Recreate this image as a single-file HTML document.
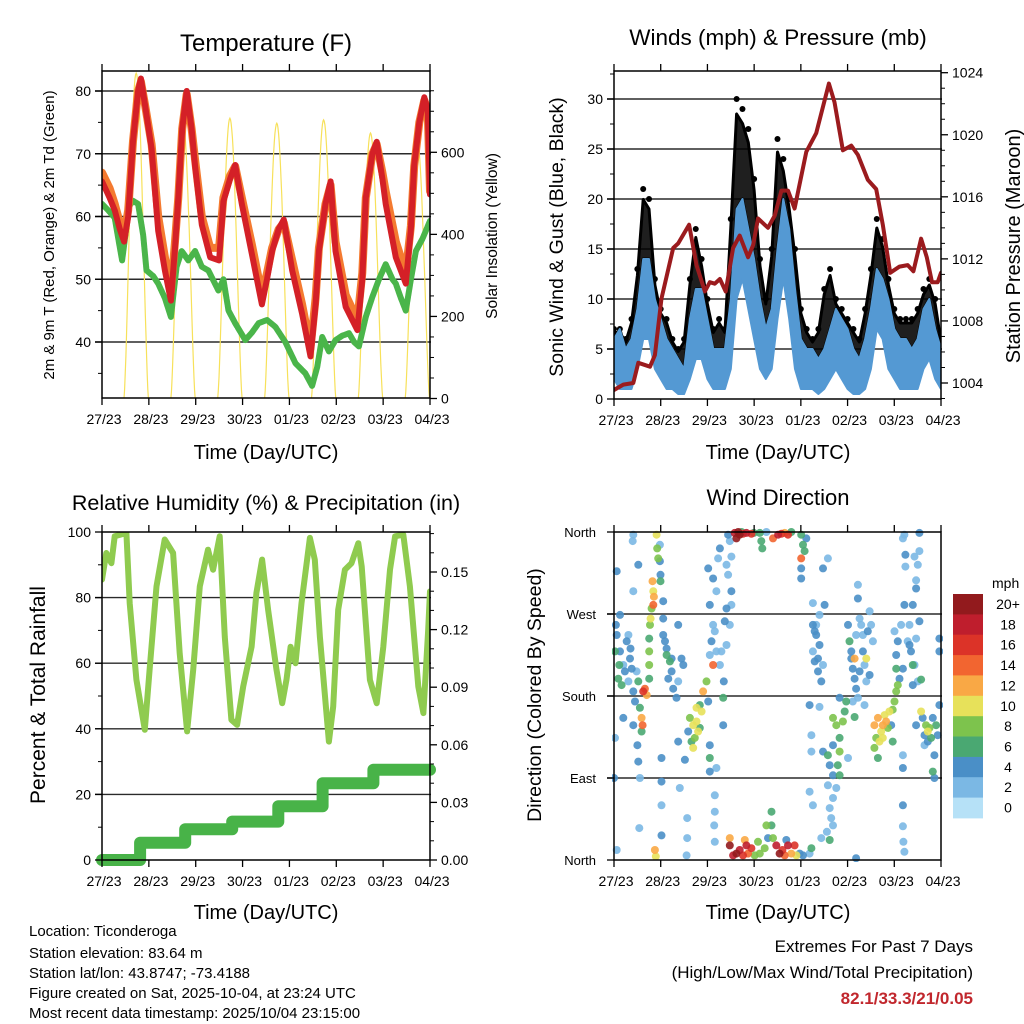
<!DOCTYPE html>
<html><head><meta charset="utf-8"><title>Station Meteogram - Ticonderoga</title>
<style>
html,body{margin:0;padding:0;background:#fff;}
svg{display:block;font-family:"Liberation Sans",Arial,sans-serif;}
</style></head>
<body>
<svg id="chart" xmlns="http://www.w3.org/2000/svg" width="1024" height="1024" viewBox="0 0 1024 1024">
<rect x="0" y="0" width="1024" height="1024" fill="#fff"/>
<defs>
<clipPath id="c1"><rect x="102" y="71" width="328" height="327"/></clipPath>
<clipPath id="c2"><rect x="614" y="71" width="327" height="328"/></clipPath>
<clipPath id="c3"><rect x="102" y="532" width="328" height="328"/></clipPath>
<clipPath id="c4"><rect x="612" y="528" width="331" height="334"/></clipPath>
</defs>
<text x="266" y="51" font-size="24" text-anchor="middle">Temperature (F)</text>
<text x="778" y="45" font-size="22.5" text-anchor="middle">Winds (mph) &amp; Pressure (mb)</text>
<text x="266" y="510" font-size="21.5" text-anchor="middle">Relative Humidity (%) &amp; Precipitation (in)</text>
<text x="778" y="505" font-size="22" text-anchor="middle">Wind Direction</text>
<text transform="translate(54,235) rotate(-90)" font-size="15" text-anchor="middle">2m &amp; 9m T (Red, Orange) &amp; 2m Td (Green)</text>
<text transform="translate(497,236) rotate(-90)" font-size="15.5" text-anchor="middle">Solar Insolation (Yellow)</text>
<text transform="translate(563,237) rotate(-90)" font-size="19.5" text-anchor="middle">Sonic Wind &amp; Gust (Blue, Black)</text>
<text transform="translate(1020,246) rotate(-90)" font-size="20" text-anchor="middle">Station Pressure (Maroon)</text>
<text transform="translate(45,695) rotate(-90)" font-size="21" text-anchor="middle">Percent &amp; Total Rainfall</text>
<text transform="translate(541,695) rotate(-90)" font-size="19.5" text-anchor="middle">Direction (Colored By Speed)</text>
<text x="266" y="459" font-size="20" text-anchor="middle">Time (Day/UTC)</text>
<text x="778" y="459" font-size="20" text-anchor="middle">Time (Day/UTC)</text>
<text x="266" y="919" font-size="20" text-anchor="middle">Time (Day/UTC)</text>
<text x="778" y="919" font-size="20" text-anchor="middle">Time (Day/UTC)</text>
<g font-size="15">
<text x="29" y="936">Location: Ticonderoga</text>
<text x="29" y="958">Station elevation: 83.64 m</text>
<text x="29" y="978">Station lat/lon: 43.8747; -73.4188</text>
<text x="29" y="998">Figure created on Sat, 2025-10-04, at 23:24 UTC</text>
<text x="29" y="1018">Most recent data timestamp: 2025/10/04 23:15:00</text>
</g>
<text x="973" y="952" font-size="17" text-anchor="end">Extremes For Past 7 Days</text>
<text x="973" y="978" font-size="17" text-anchor="end">(High/Low/Max Wind/Total Precipitation)</text>
<text x="973" y="1004" font-size="17" font-weight="bold" fill="#c1272d" text-anchor="end">82.1/33.3/21/0.05</text>
</svg>
<script>
// ===== DATA =====
const dayLabels = ["27/23","28/23","29/23","30/23","01/23","02/23","03/23","04/23"];
const tempHours = [0,3.9,6.5,9.1,11.3,13.4,15.9,18.5,19.9,21.9,25.4,28.8,32.2,35.3,37.4,39.1,41.1,43.4,45.9,47.7,51.1,55.4,60,62.2,65.6,68.2,71.6,76.8,81.9,84.5,87.1,90.5,93.1,97.4,102.5,106.8,109.4,111.1,114.5,117.1,119.6,124.8,130.8,133.3,135.1,138.5,140.7,143.6,145.3,150.5,155.6,158.2,159.9,162.5,165.1,166.8,168];
const temp2m = [65.6,63,61,58,56,60,72,80,82,78,70.8,57.7,51.4,46.6,55,63,74,80,74,68,58.7,53.5,53,62.4,66,68.2,62,54,46,50,54.5,58,59.5,51.4,44.5,37.7,46,54.5,62,65.6,54.5,45.6,41.9,50,63,70,71.9,66,62,53.5,49.3,58,68.2,75,79,77,63.5];
const temp9m = [67,64.5,62,59,57,61,72,80,81.5,78,71.5,60,53.5,48,56,63,74,79.5,74,69,60,55,55,63,66.5,68,63,55.5,47.5,51,55,58,59,53,46,39,47,55,62,65,56,47.5,43.5,51,63,70,71.5,67,64,56,51,58.5,68,75,78.5,77,64];
const dewHours = [0,3.1,6.5,8.6,10.3,12,13.4,15.9,18.5,21.1,22.8,26.2,28.8,32.2,35.3,38.2,40.8,44.2,47.7,51.1,54.5,59.6,62.2,64.8,68.2,73.4,76.8,80.2,84.5,88.8,93.9,99.1,104.2,107.6,110.2,112.8,116.2,119.6,123.1,126.5,129.1,131.6,135.1,138.5,141.9,145.3,148.8,150.5,153.1,155.6,158.2,160.8,164.2,168];
const dewPoint = [62,61,59.8,56,53,57,61.4,62.5,62,57,51.4,50.5,49.3,47,44,52,54.5,53,54.5,52,51.4,48.2,50,45,43,40.3,41.5,43,43.5,42.4,40,36.6,35,33,36,40.8,38.5,40.3,41,41.4,40,39.3,44,47.2,50,52.4,50,49.3,47,45,50,54.5,56.5,59.3];
const solarPeak = [793,671,683,671,679,647,625];
const solarRiseFrac = [0.47,0.47,0.47,0.47,0.47,0.47,0.47];
const solarSetFrac = [0.99,0.99,0.99,0.99,0.99,0.99,0.99];
const windHours = [0,3,6,9,12,15,18,21,24,27,30,33,36,39,42,45,48,51,54,57,60,63,66,69,72,75,78,81,84,87,90,93,96,99,102,105,108,111,114,117,120,123,126,129,132,135,138,141,144,147,150,153,156,159,162,165,168];
const windHigh = [6,7,5,6,9,14,14,10,8,6,5,4,3,8,11,11,8,5,5,5,10,19,20,17,14,10,7,9,15,20,17,11,6,5,5,4,5,7,9,8,7,5,4,6,9,13,12,10,7,6,6,5,6,9,10,7,5];
const windLow = [2,1,1,1,3,6,6,3,2,1,1,0.5,0.5,2,4,4,2,1,1,1,3,10,12,9,6,3,2,3,8,12,8,3,1,1,1,0.5,1,2,3,2,1,0.5,0.5,1,3,7,6,3,2,1,1,1,1,3,4,2,1];
const gustMax = [7,7,6,8,13,21,20,12,9,8,6,5,6,12,17,14,10,7,8,7,18,30,29,27,22,14,10,15,26,24,20,15,9,7,6,7,11,13,10,9,8,7,6,9,13,18,16,12,9,8,8,8,9,11,12,10,6];
const presHours = [0,4.8,9.9,12.5,18.5,21,24.4,30.4,33,38.6,42.4,46.7,49.2,51.8,54.4,57.4,61.2,64.6,68.9,71.5,74,79.1,82.6,86,89.4,92.8,98.8,103.9,110.4,113.3,117.6,121.9,125.3,130.4,134.7,138.1,141.9,146.7,150.9,153.8,157.8,160.7,163.4,166.3,168];
const pressure = [1003.55,1003.9,1004,1005.3,1005.05,1005.8,1009.45,1012.7,1013,1014.2,1011.6,1009.9,1010.5,1010.4,1010.7,1009.9,1012.7,1013.5,1012.1,1012.9,1014.6,1014,1014.8,1016.4,1016.4,1015.25,1018.9,1020.1,1023.3,1022.1,1019,1019.3,1018.7,1017.1,1016.5,1014.2,1011.1,1011.5,1011.6,1011.2,1013.3,1012.1,1010.5,1010.5,1011.1];
const rhHours = [0,2.2,4.8,6.5,12.5,14.2,17.6,21.9,24.4,27.9,32.1,36.4,39.8,43.6,46.7,50.1,54.3,56.9,60.3,62.9,66.3,69.2,72.3,76.6,79.1,82,85.1,89.4,92.3,94.5,96.6,99.1,102.2,106.5,109,111.6,116.2,118.4,121,124.4,127.8,131.3,133,137.2,140.7,144.1,147.5,150.1,154.3,157.7,162,164.6,167.1,168];
const rhValues = [85.5,93.6,90.5,98.7,99.7,78.3,55,39.7,58,83.4,97.7,93.6,63,39.2,58,83.4,94.6,88.5,98.7,68,42.7,41.2,52.9,65,81.4,91.6,76.3,58,47.8,55,65,60,78.3,98.2,91.6,68,36.1,46.8,76.3,88.5,90.5,96.6,89.5,54.9,47.8,65,88.5,98.7,99.2,83.4,52.9,44.8,70.2,81.9];
const rainHours = [0,19.5,42.6,66.7,90.3,113,139,168];
const rainTotal = [0,0.009,0.016,0.02,0.028,0.04,0.047,0.047];
const dirHours = [1.4,3.1,4.8,6.5,8.2,2.2,3.9,5.6,7.4,9.1,9.9,11.6,10.8,12.5,13.3,0.5,4.8,9.9,12,12.5,1.4,9.9,9.6,12.5,9.9,3.1,0,13.3,13,1.4,0.5,2.7,1,7.4,8.5,
21.9,22.2,22.7,19.8,20.2,20.5,20.2,19.3,18.8,18.5,18.1,18.1,18.1,18.1,15.9,15,16.8,14.2,14.7,14.2,23.6,23.9,23.9,23.6,25.3,25.3,25.3,27,28.7,29.6,27.9,30.4,32.1,33,33,35.6,34.7,24.4,24.4,24.4,24.4,21,21.5,26.2,27,29.6,
39,40.7,42.4,43.2,41.5,44.1,45,45.8,44.1,47.5,48.4,42.4,39.8,40.7,38.1,36.4,33.8,37.6,37.6,37.3,33,49.2,50.1,50.9,49.2,52.6,50.9,48.4,53.5,54.4,56.1,56.1,56.4,49.2,49.2,49.2,52.6,51.8,51.8,51.5,51.8,54.4,55.2,57.8,56.9,59.5,60.3,57.8,58.6,59.5,60.3,57.8,58.6,60.3,51.8,52.6,50.9,
62,63.8,64.6,66.3,68,70.6,71.8,74.9,75.7,76.2,78.3,81.7,84.3,86,87.7,89.4,91.1,96.2,97.1,97.9,98.8,96.2,96.2,96.2,62.9,65.5,
59.5,61.2,62.9,64.6,66.3,68,68.9,70.6,72.3,74,74.9,77.4,78.3,79.1,80.9,80.9,81.7,83.4,85.1,86.5,87.7,89.4,91.1,92.8,93.7,95.4,97.1,100.5,101.4,59.5,67.2,88.5,
102.2,103.9,105.6,103.1,104.8,106.5,102.2,107.4,103.9,105.6,102.2,108.2,100.5,105.6,101.4,101.4,107.4,109.9,110.8,112.5,114.2,112.5,110.8,111.6,112.5,109.4,110.8,112.5,114.2,115.9,115.9,117.6,118.5,119.3,115,115.9,112.5,109.9,100.5,102.2,106.5,109.9,107.4,103.1,104.8,
120.2,121,121.9,122.7,123.6,124.4,125.3,126.2,127.9,128.7,129.6,131.3,130.4,132.1,133,127,124.4,121.9,122.7,123.6,128.7,126.2,127.9,131.3,125.3,125.3,120.2,124.4,115.9,123.6,129.6,
133.8,135.6,137.3,138.1,139,139.8,140.7,136.4,134.7,138.1,133.8,135.6,141.5,143.2,142.4,143.2,144.1,145,145.8,145,146.7,148.4,144.1,145,145.8,147.5,148.4,149.2,149.7,149.7,156.1,156.9,154.4,155.2,153.5,149.2,150.9,152.6,154.4,155.2,151.8,156.9,157.8,156.1,153.5,148.4,148.4,148.4,148.4,148.7,149.2,156.9,155.2,151.8,153.5,
157.8,160.3,161.2,162.1,162.9,161.2,159.5,158.6,163.8,165.5,166.3,164.6,163.8,164.6,159.5,155.2,167.2,167.2,167.2,166.8,166.8];
const dirDeg = [247,229,214,240,221,199,192,207,196,210,185,207,174,196,167,134,156,148,126,108,317,357,350,324,295,269,90,90,35,11,229,214,258,247,232,
357,342,331,306,295,289,280,276,265,258,243,229,214,199,188,185,181,156,148,141,328,313,306,346,284,265,247,232,218,207,199,188,178,196,258,214,221,112,86,60,27,11,4,240,225,221,
156,148,152,141,134,145,163,185,170,196,174,167,130,123,141,110,79,46,24,5,130,225,240,258,280,295,309,320,331,342,148,178,196,126,112,97,101,71,53,38,20,214,229,236,262,258,280,276,357,350,333,324,313,295,251,229,214,
359,360,357,358,359,358,359,359,350,342,360,353,357,358,359,357,360,357,346,339,353,320,309,331,353,360,
16,5,7,11,5,16,7,13,5,20,7,13,38,24,53,38,24,16,7,11,5,16,7,16,5,7,5,7,13,24,22,22,
258,247,236,218,207,196,229,214,258,269,282,280,170,168,137,119,119,115,104,93,79,68,57,46,38,31,22,156,148,134,119,152,163,174,104,93,126,82,75,60,24,331,320,251,221,
258,240,221,210,199,188,178,207,229,214,196,203,251,258,240,258,247,229,174,157,170,265,247,273,302,287,112,2,178,221,221,
148,156,141,148,159,152,145,130,134,134,123,112,163,165,148,130,174,185,192,210,199,210,251,225,240,258,353,357,335,322,324,339,333,307,280,280,240,229,214,243,258,262,198,196,192,115,101,60,37,20,9,359,298,236,214,
163,148,141,145,134,130,137,156,156,148,137,115,97,90,126,148,170,243,229,218,198];
const dirSpeed = [4,4,2,4,4,6,6,4,2,4,4,2,4,6,6,2,4,4,4,4,4,2,2,4,2,4,4,2,2,2,6,6,4,2,4,
10,8,8,12,10,12,14,8,10,8,6,8,8,6,14,16,12,12,14,6,4,4,6,2,4,4,4,4,6,4,4,4,4,2,4,4,4,4,4,2,4,12,10,4,6,4,
8,10,10,10,8,6,10,12,6,8,4,10,6,10,4,4,2,2,2,2,4,2,4,2,4,2,4,4,2,4,4,6,4,4,6,4,2,2,2,2,2,2,2,2,4,2,2,4,4,2,2,2,2,4,2,2,
14,18,20,20,16,18,16,6,6,6,6,2,14,18,16,12,16,6,6,6,6,4,4,4,14,20,
6,20,18,20,18,16,18,14,16,8,8,8,8,8,4,6,6,8,18,20,16,14,18,12,16,10,4,4,2,6,12,12,
4,4,4,4,4,4,4,2,2,2,2,2,4,4,2,2,2,4,6,4,4,2,2,2,2,2,2,6,8,8,6,8,8,6,6,6,6,4,2,2,2,2,2,4,4,
4,4,6,4,4,4,4,2,4,4,2,2,4,4,2,2,2,2,4,2,6,2,2,2,2,2,4,2,4,4,
12,10,12,12,10,12,10,12,8,10,8,10,8,6,10,8,4,6,8,8,8,6,4,4,2,4,4,2,2,2,4,2,2,2,2,2,4,4,2,4,2,2,2,4,6,2,4,2,4,4,2,2,2,4,4,
4,6,10,8,10,8,6,4,4,4,4,6,4,4,6,4,2,4,4,4,4];
const speedBins = [0,2,4,6,8,10,12,14,16,18,20];
const speedLabels = ["0","2","4","6","8","10","12","14","16","18","20+"];
const speedColors = ["#b6e1f7","#7bb8e4","#4a8fc7","#4aa872","#7dc34d","#e7e15a","#f9a845","#f26530","#dc3328","#bf1e2d","#921a1d"];

// ===== HELPERS =====
const NS = "http://www.w3.org/2000/svg";
const svg = document.getElementById('chart');
function mk(tag, attrs, parent){
  const e = document.createElementNS(NS, tag);
  for (const k in attrs) e.setAttribute(k, attrs[k]);
  (parent || svg).appendChild(e);
  return e;
}
function group(name, clip){
  const g = mk('g', clip ? {'clip-path':'url(#'+clip+')'} : {});
  
  
  return g;
}
const P1 = {x0:102,x1:430,y0:71,y1:398};
const P2 = {x0:614,x1:941,y0:71,y1:399};
const P3 = {x0:102,x1:430,y0:532,y1:860};
const P4 = {x0:614,x1:941,y0:532,y1:860};
function xs(p, h){ return p.x0 + h/168*(p.x1-p.x0); }
function linScale(v0, y0, v1, y1){ return v => y0 + (v - v0)*(y1 - y0)/(v1 - v0); }
const yTemp = linScale(80, 91, 40, 342);
const ySolar = linScale(0, 398.5, 600, 152.3);
const yWind = linScale(0, 399, 30, 99);
const yPres = linScale(1004, 383, 1024, 72.7);
const yRH = linScale(0, 860, 100, 532);
const yRain = linScale(0, 860, 0.15, 572);
const yDir = linScale(0, 860, 360, 532);

function gridH(p, ys, g, name){
  ys.forEach((y,i) => {
    const l = mk('line',{x1:p.x0-7,x2:p.x1+1,y1:y,y2:y,stroke:'#2a2a2a','stroke-width':1.4}, g);
    
    
  });
}
function frame(p, name){
  const r = mk('rect',{x:p.x0,y:p.y0,width:p.x1-p.x0,height:p.y1-p.y0,fill:'none',stroke:'#000','stroke-width':1.5});
  
  
  const g = group(name+'-x-axis');
  for (let d=0; d<=7; d++){
    const x = xs(p, d*24);
    const t1 = mk('line',{x1:x,x2:x,y1:p.y1,y2:p.y1+7,stroke:'#000','stroke-width':1.3}, g);
    
    
    const t2 = mk('line',{x1:x,x2:x,y1:p.y0,y2:p.y0-7,stroke:'#000','stroke-width':1.3}, g);
    
    
    const tx = mk('text',{x:x+2,y:p.y1+26,'font-size':14,'text-anchor':'middle'}, g);
    tx.textContent = dayLabels[d];
    
    
  }
}
function yAxis(p, side, majors, minors, scale, fmt, name){
  const g = group(name);
  const x = side === 'left' ? p.x0 : p.x1;
  const dir = side === 'left' ? -1 : 1;
  minors.forEach(v => {
    const y = scale(v);
    const t = mk('line',{x1:x,x2:x+dir*4,y1:y,y2:y,stroke:'#000','stroke-width':1}, g);
    
    
  });
  majors.forEach(v => {
    const y = scale(v);
    const t = mk('line',{x1:x,x2:x+dir*7,y1:y,y2:y,stroke:'#000','stroke-width':1.3}, g);
    
    
    const tx = mk('text',{x:x+dir*11,y:y+5,'font-size':14,'text-anchor':side==='left'?'end':'start'}, g);
    tx.textContent = fmt(v);
    
    
  });
}
function pathFrom(xsArr, ysArr){
  return xsArr.map((x,i) => (i?'L':'M') + x.toFixed(1) + ',' + ysArr[i].toFixed(1)).join(' ');
}
function range(a,b,s){ const r=[]; for(let v=a; v<=b+1e-9; v+=s) r.push(+v.toFixed(4)); return r; }

// ===== PANEL 1: TEMPERATURE =====
gridH(P1, [80,70,60,50,40].map(yTemp), group('temperature-grid'), 'temp-gridline');
const g1 = group('temperature-plot', 'c1');
const solarG = group('solar-series');
g1.appendChild(solarG);
for (let d=0; d<7; d++){
  const xsA=[], ysA=[];
  const r = solarRiseFrac[d], s = solarSetFrac[d];
  for (let k=0; k<=40; k++){
    const f = r + (s-r)*k/40;
    const v = solarPeak[d]*Math.pow(Math.sin(Math.PI*k/40),1.4);
    xsA.push(xs(P1,(d+f)*24)); ysA.push(ySolar(v));
  }
  const pth = mk('path',{d:pathFrom(xsA,ysA),fill:'none',stroke:'#f7e15a','stroke-width':1.2}, solarG);
  
  
}
const dewLine = mk('path',{d:pathFrom(dewHours.map(h=>xs(P1,h)), dewPoint.map(yTemp)),fill:'none',stroke:'#4ab54a','stroke-width':6,'stroke-linejoin':'round','stroke-dasharray':'5 1','stroke-linecap':'round'}, g1);


const t9 = mk('path',{d:pathFrom(tempHours.map(h=>xs(P1,h)), temp9m.map(yTemp)),fill:'none',stroke:'#f47a30','stroke-width':8,'stroke-linejoin':'round','stroke-linecap':'round'}, g1);


const t2 = mk('path',{d:pathFrom(tempHours.map(h=>xs(P1,h)), temp2m.map(yTemp)),fill:'none',stroke:'#d42027','stroke-width':6,'stroke-linejoin':'round','stroke-linecap':'round'}, g1);


frame(P1, 'temperature');
yAxis(P1,'left',[40,50,60,70,80],[35,45,55,65,75],yTemp,v=>String(v),'temperature-y-axis');
yAxis(P1,'right',[0,200,400,600],range(50,750,50).filter(v=>v%200),ySolar,v=>String(v),'solar-y-axis');

// ===== PANEL 2: WINDS =====
gridH(P2, [5,10,15,20,25,30].map(yWind), group('winds-grid'), 'wind-gridline');
const g2 = group('winds-plot', 'c2');
const wx = windHours.map(h=>xs(P2,h));
const gustPoly = mk('path',{d:pathFrom(wx.concat(wx.slice().reverse()), windHigh.map(yWind).concat(gustMax.map(v=>yWind(v*0.95)).reverse()))+'Z',fill:'#000','fill-opacity':0.88,stroke:'#000','stroke-width':3,'stroke-linejoin':'round'}, g2);


gustMax.forEach((v,i) => {
  const c = mk('circle',{cx:wx[i],cy:yWind(v),r:3,fill:'#000'}, g2);
  
  
});
const windPoly = mk('path',{d:pathFrom(wx.concat(wx.slice().reverse()), windHigh.map(yWind).concat(windLow.map(yWind).reverse()))+'Z',fill:'#5499d3',stroke:'#5499d3','stroke-width':2,'stroke-linejoin':'round'}, g2);


const presLine = mk('path',{d:pathFrom(presHours.map(h=>xs(P2,h)), pressure.map(yPres)),fill:'none',stroke:'#9b1b1e','stroke-width':4,'stroke-linejoin':'round','stroke-linecap':'round'}, g2);


frame(P2, 'winds');
yAxis(P2,'left',[0,5,10,15,20,25,30],range(2.5,32.5,5),yWind,v=>String(v),'wind-y-axis');
yAxis(P2,'right',[1004,1008,1012,1016,1020,1024],range(1003,1024,1).filter(v=>v%4),yPres,v=>String(v),'pressure-y-axis');

// ===== PANEL 3: HUMIDITY & RAIN =====
gridH(P3, [20,40,60,80].map(yRH), group('humidity-grid'), 'rh-gridline');
const g3 = group('humidity-plot', 'c3');
const rx=[], ry=[];
rainHours.forEach((h,i) => {
  if (i>0){ rx.push(xs(P3,h)); ry.push(yRain(rainTotal[i-1])); }
  rx.push(xs(P3,h)); ry.push(yRain(rainTotal[i]));
});
const rainG = group('rain-series');
svg.appendChild(rainG);
const rainLine = mk('path',{d:pathFrom(rx,ry),fill:'none',stroke:'#48b348','stroke-width':12,'stroke-linejoin':'round','stroke-linecap':'round'}, rainG);


const rhLine = mk('path',{d:pathFrom(rhHours.map(h=>xs(P3,h)), rhValues.map(yRH)),fill:'none',stroke:'#8fcb4f','stroke-width':6,'stroke-linejoin':'round','stroke-linecap':'round'}, g3);


frame(P3, 'humidity');
yAxis(P3,'left',[0,20,40,60,80,100],[10,30,50,70,90],yRH,v=>String(v),'humidity-y-axis');
yAxis(P3,'right',[0,0.03,0.06,0.09,0.12,0.15],[0.01,0.02,0.04,0.05,0.07,0.08,0.1,0.11,0.13,0.14,0.16,0.17],yRain,v=>v.toFixed(2),'rain-y-axis');

// ===== PANEL 4: WIND DIRECTION =====
gridH(P4, [90,180,270].map(yDir), group('direction-grid'), 'dir-gridline');
const g4 = group('direction-plot', 'c4');
function speedColor(s){ let idx=0; speedBins.forEach((b,i)=>{ if (s>=b) idx=i; }); return speedColors[idx]; }
const order = dirSpeed.map((s,i)=>i).sort((a,b)=>dirSpeed[a]-dirSpeed[b]);
order.forEach(i => {
  const c = mk('circle',{cx:xs(P4,dirHours[i]).toFixed(1),cy:yDir(dirDeg[i]).toFixed(1),r:4,fill:speedColor(dirSpeed[i]),'fill-opacity':0.9}, g4);
  
  
});
frame(P4, 'direction');
const dirAxis = group('direction-y-axis');
const dirNames = ["North","East","South","West","North"];
[0,90,180,270,360].forEach((d,i) => {
  const y = yDir(d);
  const t = mk('line',{x1:P4.x0,x2:P4.x0-7,y1:y,y2:y,stroke:'#000','stroke-width':1.3}, dirAxis);
  
  
  const tx = mk('text',{x:P4.x0-18,y:y+5,'font-size':13,'text-anchor':'end'}, dirAxis);
  tx.textContent = dirNames[i];
  
  
});
const cb = group('speed-colorbar');
const cbTitle = mk('text',{x:992,y:588,'font-size':14}, cb);
cbTitle.textContent = 'mph';


for (let i=0; i<speedColors.length; i++){
  const k = speedColors.length-1-i;
  const y = 594 + i*20.36;
  const r = mk('rect',{x:953,y:y.toFixed(1),width:30,height:20.8,fill:speedColors[k]}, cb);
  
  
  const tx = mk('text',{x:1008,y:(y+15).toFixed(1),'font-size':14,'text-anchor':'middle'}, cb);
  tx.textContent = speedLabels[k];
  
  
}
</script>
</body></html>
